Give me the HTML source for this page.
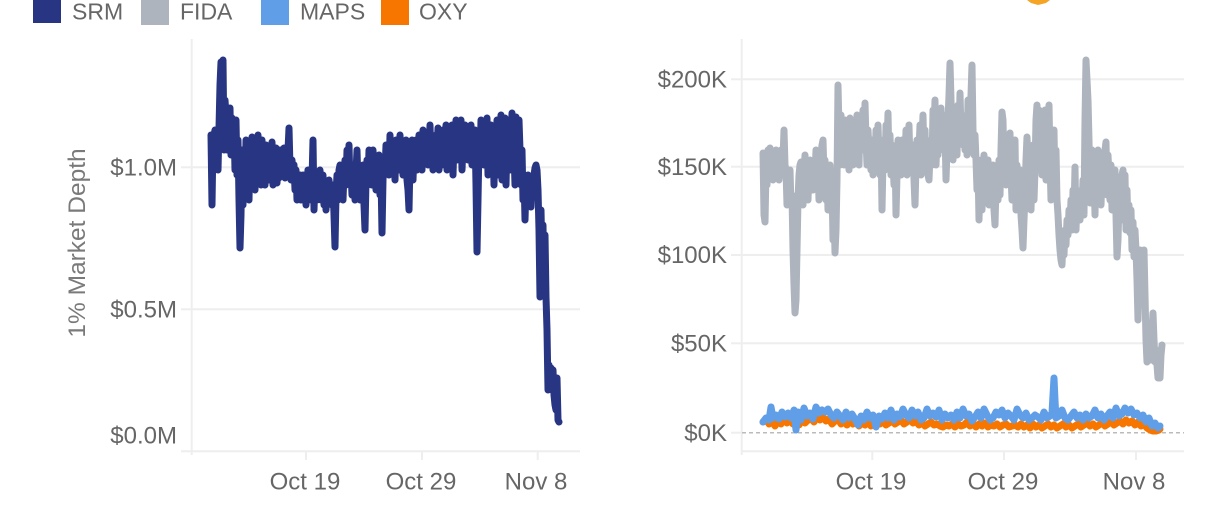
<!DOCTYPE html>
<html>
<head>
<meta charset="utf-8">
<style>
  html, body { margin: 0; padding: 0; background: #ffffff; }
  svg { display: block; }
  text { font-family: "Liberation Sans", "DejaVu Sans", sans-serif; }
</style>
</head>
<body>
<svg width="1205" height="520" viewBox="0 0 1205 520" xmlns="http://www.w3.org/2000/svg">
  <rect x="0" y="0" width="1205" height="520" fill="#ffffff"/>

  <!-- Legend -->
  <rect x="33" y="-4" width="28" height="27" fill="#283583"/>
  <text x="72" y="19.5" font-size="23" fill="#666666">SRM</text>
  <rect x="141" y="-3" width="28" height="28" fill="#adb4be"/>
  <text x="180" y="19.5" font-size="23" fill="#666666">FIDA</text>
  <rect x="261" y="-3" width="28" height="28" fill="#619ee8"/>
  <text x="300" y="19.5" font-size="23" fill="#666666">MAPS</text>
  <rect x="381" y="-3" width="28" height="28" fill="#f67600"/>
  <text x="419" y="19.5" font-size="23" fill="#666666">OXY</text>

  <!-- small orange icon fragment at top -->
  <path d="M1027,0 L1050,0 L1046,3 L1038,5 L1031,3 Z" fill="#f5a524"/>

  <!-- ================= LEFT CHART ================= -->
  <g stroke="#eeeeee" stroke-width="2" fill="none">
    <line x1="192" y1="167.3" x2="580" y2="167.3"/>
    <line x1="192" y1="309.3" x2="580" y2="309.3"/>
    <line x1="191.7" y1="39" x2="191.7" y2="452"/>
    <line x1="181" y1="451.3" x2="580" y2="451.3"/>
    <line x1="181" y1="167.3" x2="192" y2="167.3"/>
    <line x1="181" y1="309.3" x2="192" y2="309.3"/>
    <line x1="191.7" y1="451" x2="191.7" y2="455"/>
    <line x1="306" y1="451" x2="306" y2="460"/>
    <line x1="422" y1="451" x2="422" y2="460"/>
    <line x1="537.7" y1="451" x2="537.7" y2="460"/>
  </g>

  <g font-size="24" fill="#666666" text-anchor="end">
    <text x="177" y="175.5">$1.0M</text>
    <text x="177" y="317.5">$0.5M</text>
    <text x="177" y="443.5">$0.0M</text>
  </g>
  <g font-size="24" fill="#666666" text-anchor="middle">
    <text x="305" y="489.5">Oct 19</text>
    <text x="421" y="489.5">Oct 29</text>
    <text x="536" y="489.5">Nov 8</text>
  </g>
  <text transform="translate(85,243) rotate(-90)" font-size="24.5" fill="#7a7a7a" text-anchor="middle">1% Market Depth</text>

  <!-- SRM series -->
  <polyline fill="none" stroke="#283583" stroke-width="7" stroke-linejoin="round" stroke-linecap="round" points="
211,135 212,205 213,140 215,130 216,165 217,132 218,170 219,128 220,85 221,62 222,110 223,60 224,150 225,100 226,115 227,150 228,112 229,140 230,108 231,155 232,118 233,150 234,125 235,170 236,120 237,175 238,140 239,200 240,248 241,215 242,150 243,205 244,160 245,190 246,140 247,180 248,160 249,200 250,150 251,185 252,137 253,175 254,150 255,190 256,140 257,175 258,135 259,170 260,150 261,185 262,140 263,175 264,160 265,185 266,145 267,178 268,150 269,180 270,155 271,170 272,142 273,185 274,160 275,175 276,148 277,183 278,165 279,178 280,150 281,172 282,160 283,168 284,148 285,178 286,160 287,170 288,150 289,128 290,168 291,180 292,160 293,172 294,165 295,190 296,170 297,200 298,180 299,195 300,175 301,200 302,185 303,175 304,195 305,185 306,205 307,180 308,170 309,195 310,185 311,200 312,180 313,140 314,210 315,175 316,190 317,200 318,180 319,185 320,170 321,200 322,188 323,175 324,205 325,185 326,210 327,190 328,200 329,180 330,195 331,188 332,205 333,185 334,215 335,247 336,195 337,175 338,200 339,170 340,165 341,185 342,170 343,200 344,172 345,160 346,185 347,150 348,165 349,145 350,185 351,170 352,195 353,165 354,175 355,200 356,172 357,150 358,185 359,170 360,200 361,175 362,190 363,165 364,205 365,230 366,180 367,160 368,185 369,150 370,175 371,160 372,185 373,150 374,170 375,160 376,190 377,165 378,180 379,155 380,195 381,175 382,233 383,180 384,160 385,172 386,145 387,165 388,150 389,175 390,135 391,160 392,145 393,170 394,150 395,180 396,140 397,165 398,155 399,170 400,135 401,160 402,148 403,175 404,150 405,165 406,140 407,180 408,190 409,210 410,160 411,170 412,140 413,180 414,150 415,160 416,140 417,170 418,155 419,135 420,160 421,145 422,170 423,130 424,155 425,145 426,160 427,135 428,165 429,150 430,125 431,160 432,140 433,170 434,150 435,160 436,135 437,150 438,128 439,170 440,150 441,140 442,165 443,130 444,155 445,145 446,125 447,170 448,145 449,160 450,130 451,150 452,125 453,175 454,140 455,150 456,120 457,160 458,140 459,130 460,155 461,120 462,170 463,145 464,155 465,125 466,150 467,140 468,160 469,130 470,145 471,125 472,165 473,145 474,150 475,130 476,185 477,252 478,200 479,145 480,160 481,120 482,150 483,128 484,165 485,135 486,155 487,118 488,175 489,140 490,150 491,125 492,160 493,145 494,185 495,130 496,150 497,120 498,175 499,145 500,160 501,115 502,180 503,150 504,165 505,118 506,185 507,140 508,155 509,120 510,170 511,145 512,113 513,160 514,150 515,185 516,117 517,145 518,170 519,120 520,150 521,185 522,150 523,200 524,175 525,220 526,185 527,205 528,175 529,200 530,180 531,207 532,178 533,195 534,175 535,168 536,165 537,170 538,190 539,230 540,297 541,210 542,260 543,225 544,295 545,235 546,297 547,330 548,390 549,365 550,385 551,368 552,390 553,370 554,395 555,405 556,410 557,378 558,420 559,422"/>

  <!-- ================= RIGHT CHART ================= -->
  <g stroke="#eeeeee" stroke-width="2" fill="none">
    <line x1="742" y1="79.3" x2="1184" y2="79.3"/>
    <line x1="742" y1="166.7" x2="1184" y2="166.7"/>
    <line x1="742" y1="255" x2="1184" y2="255"/>
    <line x1="742" y1="343.3" x2="1184" y2="343.3"/>
    <line x1="741.7" y1="39" x2="741.7" y2="452"/>
    <line x1="741" y1="451.3" x2="1184" y2="451.3"/>
    <line x1="731" y1="79.3" x2="742" y2="79.3"/>
    <line x1="731" y1="166.7" x2="742" y2="166.7"/>
    <line x1="731" y1="255" x2="742" y2="255"/>
    <line x1="731" y1="343.3" x2="742" y2="343.3"/>
    <line x1="731" y1="432.7" x2="742" y2="432.7"/>
    <line x1="741.7" y1="451" x2="741.7" y2="455"/>
    <line x1="872.3" y1="451" x2="872.3" y2="460"/>
    <line x1="1004" y1="451" x2="1004" y2="460"/>
    <line x1="1136" y1="451" x2="1136" y2="460"/>
  </g>
  <line x1="742" y1="432.7" x2="1184" y2="432.7" stroke="#bbbbbb" stroke-width="1.5" stroke-dasharray="4,3"/>

  <g font-size="24" fill="#666666" text-anchor="end">
    <text x="727" y="87.5">$200K</text>
    <text x="727" y="175">$150K</text>
    <text x="727" y="263">$100K</text>
    <text x="727" y="351.5">$50K</text>
    <text x="727" y="441">$0K</text>
  </g>
  <g font-size="24" fill="#666666" text-anchor="middle">
    <text x="871" y="489.5">Oct 19</text>
    <text x="1003" y="489.5">Oct 29</text>
    <text x="1134" y="489.5">Nov 8</text>
  </g>

  <!-- FIDA series -->
  <polyline fill="none" stroke="#adb4be" stroke-width="7" stroke-linejoin="round" stroke-linecap="round" points="
763,153 764,215 765,222 766,170 767,185 768,150 769,165 770,148 771,175 772,152 773,180 774,160 775,172 776,150 777,168 778,160 779,180 780,165 781,150 782,175 783,160 784,130 785,165 786,170 787,205 788,180 789,200 790,170 791,205 792,195 793,250 794,285 795,313 796,300 797,250 798,200 799,175 800,165 801,162 802,190 803,205 804,175 805,155 806,185 807,165 808,200 809,170 810,160 811,178 812,165 813,190 814,160 815,175 816,150 817,180 818,165 819,200 820,170 821,155 822,145 823,140 824,175 825,160 826,200 827,175 828,210 829,185 830,165 831,205 832,185 833,240 834,210 835,253 836,230 837,180 838,85 839,130 840,165 841,115 842,155 843,130 844,165 845,120 846,160 847,125 848,150 849,170 850,118 851,155 852,120 853,165 854,140 855,125 856,160 857,115 858,145 859,165 860,120 861,150 862,130 863,110 864,150 865,103 866,140 867,165 868,130 869,150 870,160 871,170 872,140 873,175 874,150 875,165 876,130 877,170 878,125 879,160 880,175 881,140 882,210 883,160 884,145 885,170 886,125 887,150 888,113 889,165 890,135 891,175 892,145 893,160 894,185 895,150 896,215 897,175 898,140 899,165 900,150 901,175 902,140 903,170 904,150 905,160 906,130 907,175 908,145 909,125 910,165 911,150 912,170 913,145 914,180 915,205 916,165 917,140 918,160 919,150 920,125 921,175 922,140 923,115 924,160 925,130 926,170 927,150 928,175 929,180 930,155 931,140 932,165 933,110 934,130 935,100 936,165 937,140 938,155 939,120 940,150 941,108 942,145 943,115 944,135 945,130 946,180 947,150 948,120 949,95 950,63 951,100 952,130 953,160 954,110 955,140 956,120 957,155 958,105 959,140 960,93 961,130 962,115 963,145 964,125 965,150 966,118 967,155 968,100 969,140 970,120 971,95 972,65 973,130 974,155 975,135 976,160 977,190 978,165 979,220 980,175 981,160 982,210 983,180 984,155 985,200 986,165 987,185 988,160 989,205 990,175 991,190 992,200 993,165 994,210 995,225 996,185 997,175 998,200 999,160 1000,195 1001,150 1002,112 1003,120 1004,170 1005,150 1006,185 1007,140 1008,175 1009,160 1010,133 1011,175 1012,200 1013,160 1014,185 1015,140 1016,210 1017,165 1018,185 1019,200 1020,170 1021,215 1022,230 1023,248 1024,220 1025,195 1026,160 1027,137 1028,165 1029,195 1030,155 1031,210 1032,175 1033,145 1034,200 1035,170 1036,120 1037,105 1038,150 1039,110 1040,165 1041,125 1042,175 1043,115 1044,160 1045,110 1046,180 1047,135 1048,150 1049,105 1050,160 1051,200 1052,155 1053,175 1054,130 1055,190 1056,150 1057,200 1058,215 1059,235 1060,250 1061,260 1062,265 1063,240 1064,255 1065,230 1066,245 1067,220 1068,235 1069,210 1070,225 1071,200 1072,230 1073,190 1074,215 1075,167 1076,230 1077,200 1078,215 1079,195 1080,220 1081,190 1082,210 1083,180 1084,215 1085,120 1086,60 1087,80 1088,100 1089,140 1090,203 1091,180 1092,150 1093,190 1094,170 1095,215 1096,160 1097,200 1098,150 1099,185 1100,160 1101,205 1102,175 1103,165 1104,190 1105,150 1106,142 1107,195 1108,155 1109,175 1110,200 1111,165 1112,210 1113,185 1114,200 1115,170 1116,215 1117,257 1118,240 1119,200 1120,180 1121,220 1122,175 1123,170 1124,215 1125,175 1126,230 1127,190 1128,225 1129,205 1130,233 1131,210 1132,250 1133,222 1134,257 1135,230 1136,250 1137,280 1138,320 1139,270 1140,250 1141,300 1142,265 1143,290 1144,250 1145,295 1146,340 1147,362 1148,330 1149,355 1150,340 1151,360 1152,330 1153,313 1154,340 1155,362 1156,350 1157,365 1158,378 1159,370 1160,378 1161,355 1162,345"/>

  <!-- OXY series -->
  <polyline fill="none" stroke="#f67600" stroke-width="7" stroke-linejoin="round" stroke-linecap="round" points="
763,422 766,419 769,424 772,421 775,426 778,421 781,424 784,419 787,423 790,420 793,424 796,421 799,425 802,419 805,423 808,420 811,418 814,422 817,416 820,420 823,417 826,421 829,419 832,424 835,421 838,419 841,424 844,422 847,425 850,421 853,424 856,422 859,426 862,423 865,425 868,422 871,426 874,423 877,420 880,424 883,421 886,425 889,423 892,421 895,424 898,422 901,420 904,424 907,422 910,419 913,423 916,421 919,425 922,423 925,426 928,424 931,422 934,425 937,424 940,426 943,427 946,425 949,426 952,424 955,427 958,424 961,426 964,425 967,422 970,426 973,424 976,427 979,424 982,426 985,423 988,427 991,425 994,426 997,424 1000,427 1003,425 1006,424 1009,427 1012,426 1015,425 1018,427 1021,424 1024,427 1027,425 1030,428 1033,424 1036,427 1039,425 1042,428 1045,426 1048,424 1051,427 1054,425 1057,428 1060,426 1063,424 1066,427 1069,425 1072,428 1075,426 1078,424 1081,427 1084,425 1087,423 1090,426 1093,424 1096,427 1099,425 1102,423 1105,426 1108,424 1111,422 1114,425 1117,423 1120,421 1123,424 1126,420 1129,423 1132,421 1135,425 1138,422 1141,426 1144,424 1147,428 1150,430 1153,431 1156,431 1159,430 1160,429"/>

  <!-- MAPS series -->
  <polyline fill="none" stroke="#619ee8" stroke-width="7" stroke-linejoin="round" stroke-linecap="round" points="
763,422 766,418 769,420 771,407 773,418 776,415 779,419 782,412 785,417 788,413 791,418 794,410 796,430 798,412 801,420 804,408 807,416 810,413 813,419 816,407 819,413 822,410 825,412 828,409 831,415 834,418 837,412 840,416 843,420 846,412 849,418 852,414 855,419 858,425 861,416 864,420 867,412 870,418 873,415 876,427 879,416 882,419 885,413 888,418 891,410 894,420 897,414 900,417 903,409 906,415 909,418 912,410 915,416 918,412 921,420 924,418 927,409 930,416 933,413 936,417 939,410 942,420 945,414 948,418 951,415 954,420 957,412 960,418 963,409 966,416 969,414 972,421 975,417 978,412 981,418 984,409 987,415 990,420 993,418 996,412 999,415 1002,410 1005,418 1008,413 1011,416 1014,420 1017,409 1020,415 1023,418 1026,413 1029,420 1032,418 1035,415 1038,417 1041,420 1044,412 1047,418 1050,416 1052,413 1053,395 1054,378 1055,400 1056,418 1059,416 1062,410 1065,418 1068,420 1071,416 1074,412 1077,418 1080,415 1083,420 1086,414 1089,418 1092,416 1095,410 1098,418 1101,414 1104,420 1107,416 1110,412 1113,418 1116,408 1119,416 1122,414 1125,408 1128,413 1131,409 1134,415 1137,413 1140,418 1143,415 1146,422 1149,418 1152,426 1155,423 1158,428 1160,426"/>
</svg>
</body>
</html>
